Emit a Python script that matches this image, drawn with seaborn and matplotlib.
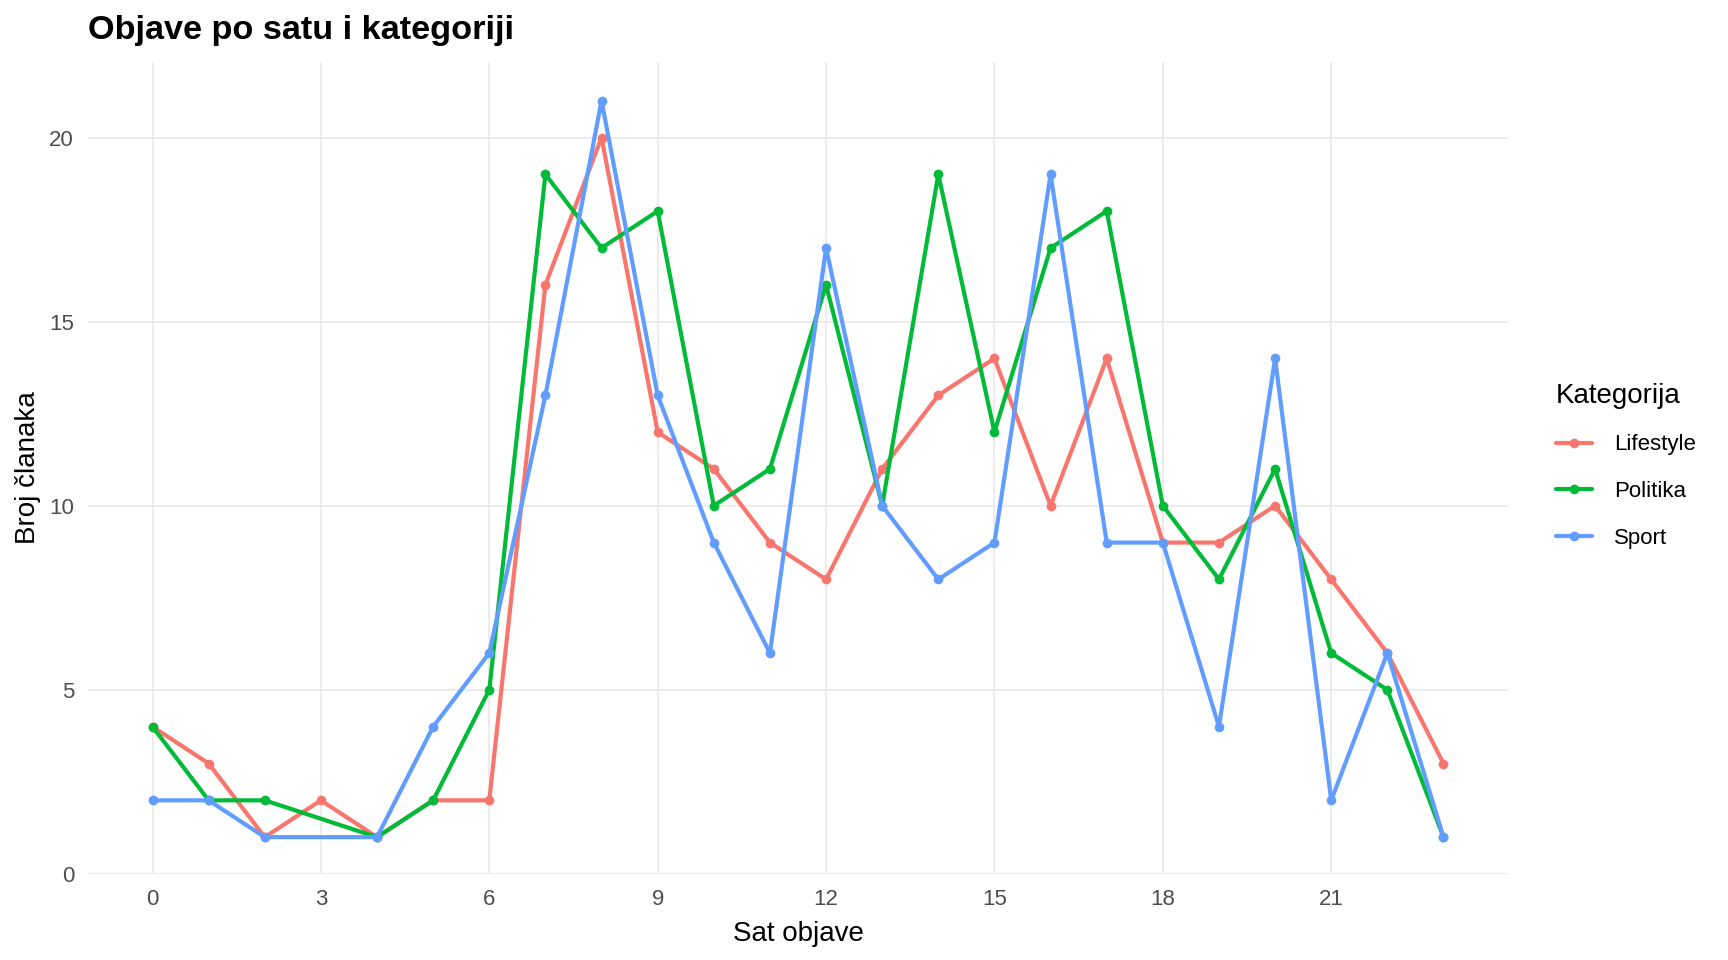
import pandas as pd
import numpy as np
import matplotlib
matplotlib.use('Agg')
import matplotlib.pyplot as plt
import seaborn as sns

# 시간대별 기사 수
sati = list(range(24))
lifestyle = [4, 3, 1, 2, 1, 2, 2, 16, 20, 12, 11, 9, 8, 11, 13, 14, 10, 14, 9, 9, 10, 8, 6, 3]
# 3시 데이터 없음 (None)
politika = [4, 2, 2, None, 1, 2, 5, 19, 17, 18, 10, 11, 16, 10, 19, 12, 17, 18, 10, 8, 11, 6, 5, 1]
sport = [2, 2, 1, None, 1, 4, 6, 13, 21, 13, 9, 6, 17, 10, 8, 9, 19, 9, 9, 4, 14, 2, 6, 1]

kategorije = ['Lifestyle', 'Politika', 'Sport']
boje = ['#F8766D', '#00BA38', '#619CFF']
x_ticks = [0, 3, 6, 9, 12, 15, 18, 21]
y_ticks = [0, 5, 10, 15, 20]

rows = []
for kat, vals in zip(kategorije, [lifestyle, politika, sport]):
    for s, v in zip(sati, vals):
        if v is not None:
            rows.append({'Sat': s, 'Broj': v, 'Kategorija': kat})
df = pd.DataFrame(rows)

sns.set_theme(style='whitegrid')
plt.rcParams['font.family'] = ['Liberation Sans', 'DejaVu Sans']

fig = plt.figure(figsize=(17.28, 9.6), dpi=100)
ax = fig.add_axes([0.0509, 0.0896, 0.8218, 0.8458])

sns.lineplot(data=df, x='Sat', y='Broj', hue='Kategorija', hue_order=kategorije,
             palette=boje, marker='o', markersize=7, markeredgewidth=0,
             linewidth=3, ax=ax)

ax.set_xlim(-1.15, 24.15)
ax.set_ylim(0, 22.05)
ax.set_xticks(x_ticks)
ax.set_yticks(y_ticks)
ax.grid(True, color='#EBEBEB', linewidth=1.3)
ax.set_axisbelow(True)
for sp in ax.spines.values():
    sp.set_visible(False)
ax.tick_params(axis='x', length=0, pad=11, labelsize=16, labelcolor='#4D4D4D')
ax.tick_params(axis='y', length=0, pad=10, labelsize=16, labelcolor='#4D4D4D')

ax.set_xlabel('Sat objave', fontsize=20, color='black', labelpad=8)
ax.set_ylabel('Broj članaka', fontsize=20, color='black')
ax.yaxis.set_label_coords(-0.033, 0.5)

fig.text(0.0509, 1 - 31 / 960, 'Objave po satu i kategoriji', fontsize=24.7,
         fontweight='bold', va='center', ha='left', color='black')

handles, labels = ax.get_legend_handles_labels()
leg = ax.legend(handles, labels, title='Kategorija', loc='upper left',
                bbox_to_anchor=(0.889, 0.622), bbox_transform=fig.transFigure,
                frameon=False, fontsize=16, title_fontsize=20, handlelength=1.6,
                labelspacing=1.15, handletextpad=1.0, alignment='left')
leg.get_title().set_color('black')
for t in leg.get_texts():
    t.set_color('black')

fig.savefig('out.png', dpi=100)
